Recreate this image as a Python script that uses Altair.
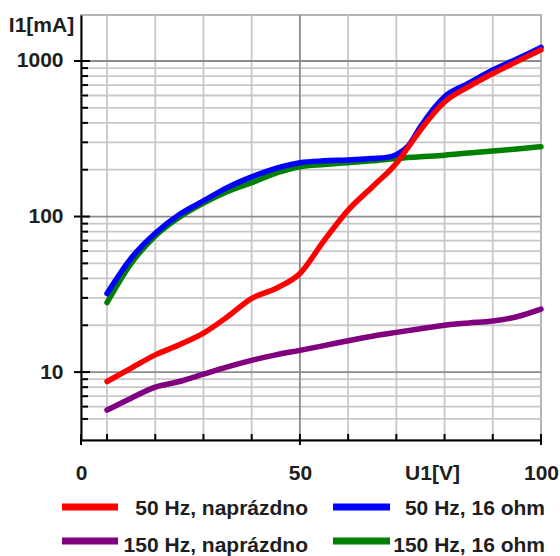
import altair as alt
import pandas as pd

# ---- data ----
series_names = ["50 Hz, naprázdno", "50 Hz, 16 ohm", "150 Hz, naprázdno", "150 Hz, 16 ohm"]
series_colors = ["#ff0000", "#0000ff", "#800080", "#008000"]

red_x = [10, 15, 20, 25, 30, 35, 40, 45, 50, 55, 60, 65, 70, 72.5, 75, 80, 85, 90, 95, 100]
red_y = [8.7, 10.6, 12.9, 15.0, 17.8, 22.7, 29.8, 34.5, 43, 70, 110, 155, 220, 280, 360, 545, 684, 830, 990, 1180]

blue_x = [10, 15, 20, 25, 30, 35, 40, 45, 50, 55, 60, 65, 68, 70, 72.5, 75, 80, 85, 90, 95, 100]
blue_y = [32, 54, 78, 103, 126, 154, 180, 204, 222, 228, 231, 236, 240, 250, 285, 378, 589, 719, 875, 1030, 1224]

purple_x = [10, 15, 20, 25, 30, 35, 40, 45, 50, 55, 60, 65, 70, 75, 80, 85, 90, 95, 100]
purple_y = [5.7, 6.8, 8.0, 8.7, 9.7, 10.8, 11.9, 12.9, 13.8, 14.8, 15.9, 17.0, 18.0, 19.0, 20.0, 20.7, 21.3, 22.7, 25.4]

green_x = [10, 15, 20, 25, 30, 35, 40, 45, 50, 55, 60, 65, 70, 75, 80, 85, 90, 95, 100]
green_y = [28, 50, 75, 99, 122, 145, 165, 190, 209, 216, 222, 228, 236, 242, 248, 256, 264, 272, 281]

y_grid_minor = [5, 6, 7, 8, 9, 20, 30, 40, 50, 60, 70, 80, 90, 200, 300, 400, 500, 600, 700, 800, 900]
y_grid_major = [10, 100, 1000]
x_grid_minor = [10, 20, 30, 40, 60, 70, 80, 90]
x_grid_major = [50]
x_label_values = [4.6, 50, 100]
y_label_values = [10, 100, 1000]

FONT = "Liberation Sans"
TXT = "#1e1e1e"

xs = alt.Scale(type="linear", domain=[4.6, 100], nice=False, zero=False)
ys = alt.Scale(type="log", domain=[3.66, 1975], nice=False)

x_axis = alt.Axis(
    values=x_label_values, ticks=False, grid=False, domainColor="black", domainWidth=2,
    labelExpr="datum.value < 10 ? '0' : format(datum.value, 'd')",
    labelFont=FONT, labelFontSize=21, labelFontWeight="bold", labelColor=TXT,
    labelFlush=False, labelOverlap=False, labelBaseline="middle", labelPadding=33,
    title="U1[V]", titleFont=FONT, titleFontSize=21, titleFontWeight="bold", titleColor=TXT,
    titleX=351, titleY=33, titleAlign="center", titleBaseline="middle", titleAngle=0)
y_axis = alt.Axis(
    values=y_label_values, ticks=False, grid=False, domainColor="black", domainWidth=2,
    format="d", labelFont=FONT, labelFontSize=21, labelFontWeight="bold", labelColor=TXT,
    labelOverlap=False, labelPadding=18,
    title="I1[mA]", titleFont=FONT, titleFontSize=21, titleFontWeight="bold", titleColor=TXT,
    titleX=-40, titleY=10, titleAlign="center", titleBaseline="middle", titleAngle=0)

X = lambda: alt.X("U:Q", scale=xs, axis=x_axis)
Y = lambda: alt.Y("I:Q", scale=ys, axis=y_axis)


def df(xv=None, yv=None):
    d = {}
    if xv is not None:
        d["U"] = xv
    if yv is not None:
        d["I"] = yv
    return pd.DataFrame(d)


layers = []

# grid lines
layers.append(alt.Chart(df(yv=y_grid_minor)).mark_rule(color="#c8c8c8", strokeWidth=1.8).encode(y=Y()))
layers.append(alt.Chart(df(xv=x_grid_minor)).mark_rule(color="#c8c8c8", strokeWidth=1.8).encode(x=X()))
layers.append(alt.Chart(df(yv=y_grid_major)).mark_rule(color="#8c8c8c", strokeWidth=1.8).encode(y=Y()))
layers.append(alt.Chart(df(xv=x_grid_major)).mark_rule(color="#8c8c8c", strokeWidth=1.8).encode(x=X()))

# curves (drawing order: green, blue, red, purple)
curves = [
    (green_x, green_y, "#008000"),
    (blue_x, blue_y, "#0000ff"),
    (red_x, red_y, "#ff0000"),
    (purple_x, purple_y, "#800080"),
]
for cx, cy, col in curves:
    layers.append(alt.Chart(df(cx, cy)).mark_line(
        color=col, strokeWidth=5.5, interpolate="monotone", strokeCap="round").encode(x=X(), y=Y()))

# axis ticks
layers.append(alt.Chart(df(yv=y_grid_minor)).mark_rule(color="black", strokeWidth=2).encode(
    y=Y(), x=alt.value(0), x2=alt.value(7)))
layers.append(alt.Chart(df(yv=y_label_values)).mark_rule(color="black", strokeWidth=2).encode(
    y=Y(), x=alt.value(-7), x2=alt.value(9)))
layers.append(alt.Chart(df(xv=x_grid_minor)).mark_rule(color="black", strokeWidth=2).encode(
    x=X(), y=alt.value(419), y2=alt.value(425)))
layers.append(alt.Chart(df(xv=x_label_values)).mark_rule(color="black", strokeWidth=2).encode(
    x=X(), y=alt.value(419), y2=alt.value(430)))

# legend (custom, two columns, right-aligned labels)
legend_pos = {
    "50 Hz, naprázdno": (-19, 37, 492, 227, 494),
    "50 Hz, 16 ohm": (252, 309, 492, 464, 494),
    "150 Hz, naprázdno": (-19, 37, 526, 227, 531),
    "150 Hz, 16 ohm": (252, 309, 526, 464, 531),
}
one = alt.Data(values=[{"k": 1}])
for name, col in zip(series_names, series_colors):
    sx1, sx2, sy, tx, ty = legend_pos[name]
    layers.append(alt.Chart(one).mark_rule(color=col, strokeWidth=7, strokeCap="butt").encode(
        x=alt.value(sx1), x2=alt.value(sx2), y=alt.value(sy)))
    layers.append(alt.Chart(one).mark_text(
        align="right", baseline="middle", font=FONT, fontSize=21, fontWeight="bold", color=TXT).encode(
        x=alt.value(tx), y=alt.value(ty), text=alt.value(name)))

chart = alt.layer(*layers).properties(
    width=460, height=425,
    autosize=alt.AutoSizeParams(type="none"),
    padding={"left": 81, "top": 15, "right": 19, "bottom": 116},
).configure_view(stroke="#b4b4b4", strokeWidth=2)

chart.save("out.html", embed_options={"renderer": "svg", "actions": False})
